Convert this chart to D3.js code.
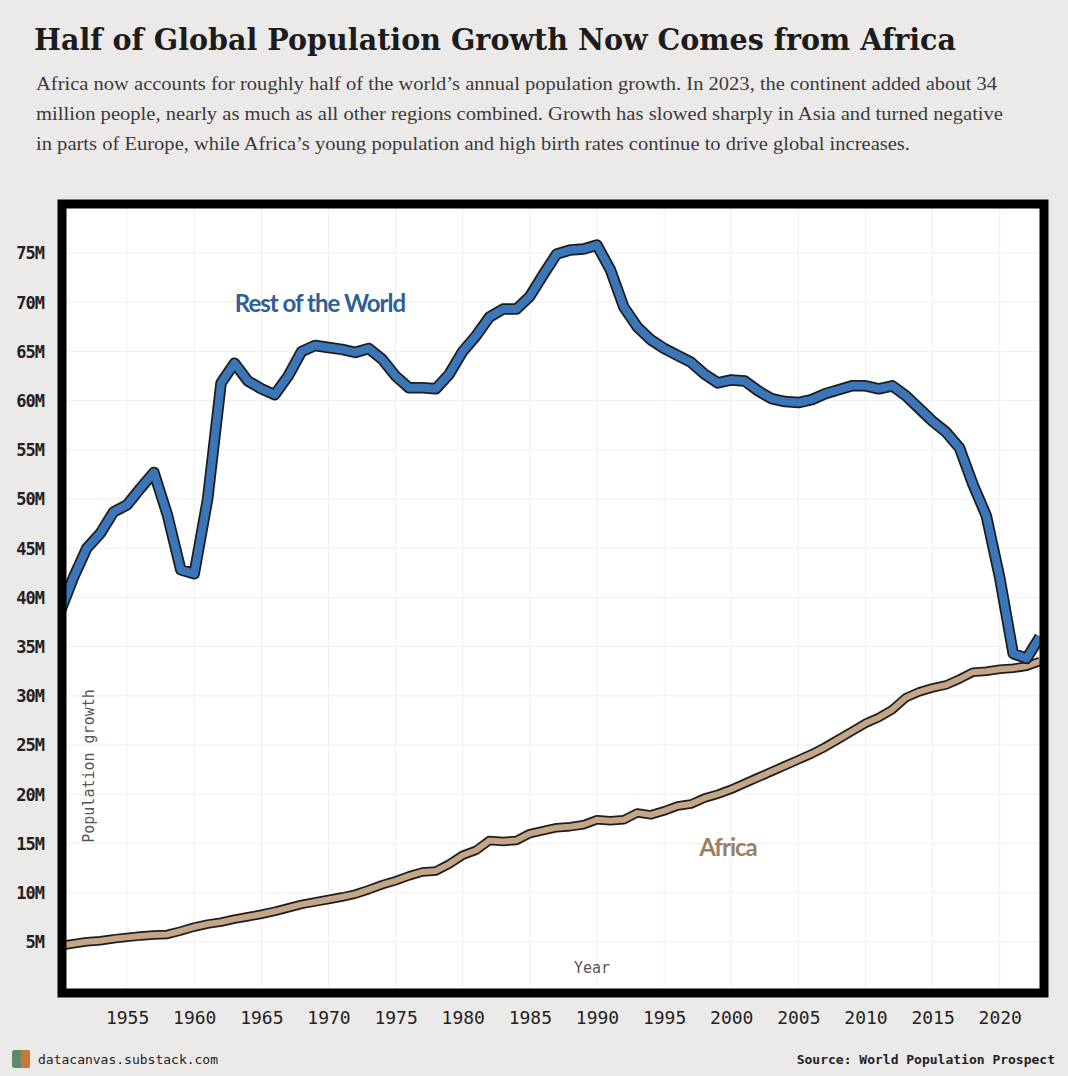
<!DOCTYPE html>
<html>
<head>
<meta charset="utf-8">
<script src="https://cdn.jsdelivr.net/npm/d3@7"></script>
<style>
  body { margin: 0; background: #ebeae8; }
  svg { display: block; }
</style>
</head>
<body>
<svg id="chart" width="1068" height="1076"></svg>
<script>
// Annual population growth, millions
var years = d3.range(1950, 2024);
var restOfWorld = [38.5, 42.0, 45.0, 46.5, 48.7, 49.4, 51.1, 52.7, 48.4, 42.8, 42.4, 50.0, 61.8, 63.8, 62.0, 61.2, 60.6, 62.5, 65.0, 65.6,
  65.4, 65.2, 64.9, 65.3, 64.2, 62.5, 61.3, 61.3, 61.2, 62.7, 65.0, 66.6, 68.5, 69.3, 69.3, 70.6, 72.8, 74.9, 75.3, 75.4,
  75.8, 73.3, 69.5, 67.5, 66.2, 65.3, 64.6, 63.9, 62.7, 61.8, 62.1, 62.0, 61.0, 60.2, 59.9, 59.8, 60.1, 60.7, 61.1, 61.5,
  61.5, 61.2, 61.5, 60.5, 59.2, 57.9, 56.8, 55.2, 51.5, 48.3, 42.0, 34.3, 33.8, 36.0];
var africa = [4.6, 4.8, 5.0, 5.1, 5.3, 5.45, 5.6, 5.7, 5.75, 6.1, 6.5, 6.8, 7.0, 7.3, 7.55, 7.8, 8.1, 8.45, 8.8, 9.05,
  9.3, 9.55, 9.85, 10.3, 10.8, 11.2, 11.7, 12.1, 12.2, 12.9, 13.8, 14.3, 15.3, 15.2, 15.3, 16.0, 16.3, 16.6, 16.7, 16.9,
  17.4, 17.3, 17.4, 18.1, 17.9, 18.3, 18.8, 19.0, 19.6, 20.0, 20.5, 21.1, 21.7, 22.3, 22.9, 23.5, 24.1, 24.8, 25.6, 26.4,
  27.2, 27.8, 28.6, 29.8, 30.4, 30.8, 31.1, 31.7, 32.4, 32.5, 32.7, 32.8, 33.0, 33.5];
var yTicks = [5, 10, 15, 20, 25, 30, 35, 40, 45, 50, 55, 60, 65, 70, 75];
var xTicks = [1955, 1960, 1965, 1970, 1975, 1980, 1985, 1990, 1995, 2000, 2005, 2010, 2015, 2020];

var svg = d3.select("#chart");
var mono = "'DejaVu Sans Mono', monospace";
var inner = { left: 66, right: 1040, top: 208, bottom: 989 };

var x = d3.scaleLinear().domain([1950.45, 2023]).range([inner.left, inner.right]);
var y = d3.scaleLinear().domain([0, 80]).range([991, 991 - 80 * 9.84]);

// Title and subtitle
svg.append("text").attr("x", 34).attr("y", 50)
  .style("font-family", "'DejaVu Serif', serif").style("font-weight", "bold")
  .style("font-size", "29px").attr("textLength", 922).attr("lengthAdjust", "spacingAndGlyphs")
  .attr("fill", "#1c1c1c")
  .text("Half of Global Population Growth Now Comes from Africa");

var sub = ["Africa now accounts for roughly half of the world\u2019s annual population growth. In 2023, the continent added about 34",
  "million people, nearly as much as all other regions combined. Growth has slowed sharply in Asia and turned negative",
  "in parts of Europe, while Africa\u2019s young population and high birth rates continue to drive global increases."];
var subLen = [961, 967, 874];
sub.forEach(function(line, i) {
  svg.append("text").attr("x", 36).attr("y", 90 + i * 30)
    .style("font-family", "'Liberation Serif', serif").style("font-size", "18.5px")
    .attr("textLength", subLen[i]).attr("lengthAdjust", "spacingAndGlyphs")
    .attr("fill", "#3a3a3a").text(line);
});

// Plot background
svg.append("rect").attr("x", inner.left).attr("y", inner.top)
  .attr("width", inner.right - inner.left).attr("height", inner.bottom - inner.top).attr("fill", "#fff");

svg.append("clipPath").attr("id", "clip").append("rect")
  .attr("x", inner.left).attr("y", inner.top)
  .attr("width", inner.right - inner.left).attr("height", inner.bottom - inner.top);

// Grid
var grid = svg.append("g").attr("stroke", "#efefef").attr("stroke-width", 1);
d3.range(1955, 2025, 5).forEach(function(d) {
  grid.append("line").attr("x1", x(d)).attr("x2", x(d)).attr("y1", inner.top).attr("y2", inner.bottom);
});
d3.range(5, 80, 5).forEach(function(d) {
  grid.append("line").attr("x1", inner.left).attr("x2", inner.right).attr("y1", y(d)).attr("y2", y(d));
});

// Lines
var plot = svg.append("g").attr("clip-path", "url(#clip)");
function drawLine(values, color, w) {
  var line = d3.line().x(function(d, i) { return x(years[i]); }).y(function(d) { return y(d); });
  plot.append("path").datum(values).attr("d", line).attr("fill", "none")
    .attr("stroke", "#1d1d1d").attr("stroke-width", w + 3.5).attr("stroke-linejoin", "round");
  plot.append("path").datum(values).attr("d", line).attr("fill", "none")
    .attr("stroke", color).attr("stroke-width", w).attr("stroke-linejoin", "round");
}
drawLine(africa, "#c4a586", 6);
drawLine(restOfWorld, "#3a76b8", 8);

// Series labels
svg.append("text").attr("x", 320).attr("y", 312).attr("text-anchor", "middle")
  .style("font-family", "Lato, sans-serif").style("font-weight", "bold").style("font-size", "24px")
  .style("letter-spacing", "-1px").attr("fill", "#2f5f93").text("Rest of the World");
svg.append("text").attr("x", 728).attr("y", 856).attr("text-anchor", "middle")
  .style("font-family", "Lato, sans-serif").style("font-weight", "bold").style("font-size", "24px")
  .style("letter-spacing", "-1px").attr("fill", "#9c7f62").text("Africa");

// Axis titles
svg.append("text").attr("transform", "translate(94,766) rotate(-90)").attr("text-anchor", "middle")
  .style("font-family", mono).style("font-size", "15px").attr("fill", "#555").text("Population growth");
svg.append("text").attr("x", 592).attr("y", 973).attr("text-anchor", "middle")
  .style("font-family", mono).style("font-size", "15px").attr("fill", "#555").text("Year");

// Frame
svg.append("rect").attr("x", 62).attr("y", 204).attr("width", 982).attr("height", 789)
  .attr("fill", "none").attr("stroke", "#000").attr("stroke-width", 9);

// Axes
var yAxis = svg.append("g").attr("transform", "translate(47,0)")
  .call(d3.axisLeft(y).tickValues(yTicks).tickSize(0).tickFormat(function(d) { return d + "M"; }));
yAxis.select(".domain").remove();
yAxis.selectAll("text").style("font-family", mono).style("font-weight", "bold")
  .style("font-size", "17px").style("letter-spacing", "-1px").attr("fill", "#222").attr("dy", "0.35em");

var xAxis = svg.append("g").attr("transform", "translate(0,1008)")
  .call(d3.axisBottom(x).tickValues(xTicks).tickSize(0).tickFormat(d3.format("d")));
xAxis.select(".domain").remove();
xAxis.selectAll("text").style("font-family", mono).style("font-size", "18px")
  .attr("fill", "#222").attr("dy", "0.71em");

// Footer
var logo = svg.append("g").attr("transform", "translate(12,1050)");
logo.append("rect").attr("width", 18).attr("height", 18).attr("rx", 3).attr("fill", "#5f8a6a");
logo.append("rect").attr("x", 9).attr("width", 9).attr("height", 18).attr("rx", 2).attr("fill", "#c8763c");
svg.append("text").attr("x", 38).attr("y", 1064)
  .style("font-family", mono).style("font-size", "13px").attr("fill", "#222").text("datacanvas.substack.com");
svg.append("text").attr("x", 1055).attr("y", 1064).attr("text-anchor", "end")
  .style("font-family", mono).style("font-size", "13px").style("font-weight", "bold")
  .attr("fill", "#222").text("Source: World Population Prospect");
</script>
</body>
</html>
